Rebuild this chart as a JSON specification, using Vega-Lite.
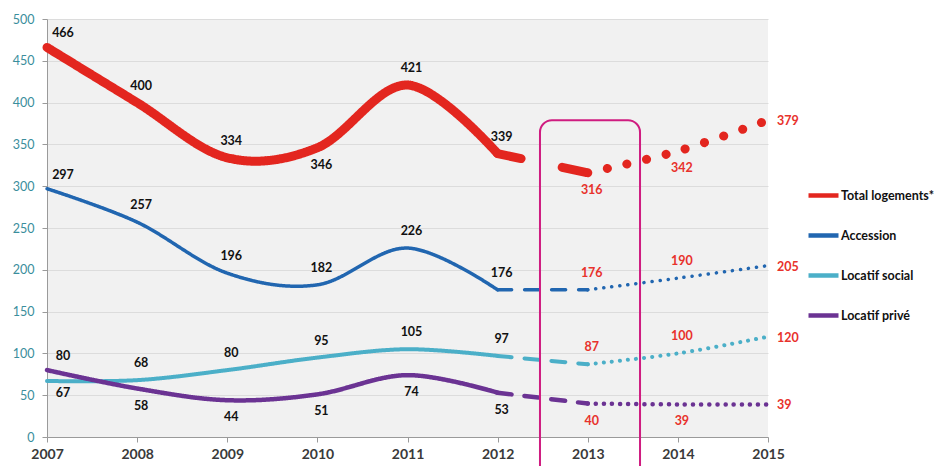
{
  "$schema": "https://vega.github.io/schema/vega-lite/v6.json",
  "width": 721,
  "height": 418,
  "autosize": {"type": "none"},
  "padding": {"left": 47, "top": 19, "right": 174, "bottom": 29},
  "background": "white",
  "config": {
    "view": {"fill": "#f1f1f1", "stroke": null},
    "font": "Lato",
    "legend": {
      "labelFont": "Lato", "labelFontSize": 12.5, "labelFontWeight": "bold", "labelColor": "#111",
      "symbolType": "stroke", "symbolSize": 900, "symbolStrokeWidth": 4.5, "labelOffset": 0,
      "rowPadding": 13, "padding": 0, "labelLimit": 200
    }
  },
  "datasets": {
    "logements": [
      {"series": "Total logements*", "year": 2007, "value": 466, "segment": "actual"},
      {"series": "Total logements*", "year": 2008, "value": 400, "segment": "actual"},
      {"series": "Total logements*", "year": 2009, "value": 334, "segment": "actual"},
      {"series": "Total logements*", "year": 2010, "value": 346, "segment": "actual"},
      {"series": "Total logements*", "year": 2011, "value": 421, "segment": "actual"},
      {"series": "Total logements*", "year": 2012, "value": 339, "segment": "actual"},
      {"series": "Total logements*", "year": 2012, "value": 339, "segment": "transition"},
      {"series": "Total logements*", "year": 2013, "value": 316, "segment": "transition"},
      {"series": "Total logements*", "year": 2013, "value": 316, "segment": "forecast"},
      {"series": "Total logements*", "year": 2014, "value": 342, "segment": "forecast"},
      {"series": "Total logements*", "year": 2015, "value": 379, "segment": "forecast"},
      {"series": "Accession", "year": 2007, "value": 297, "segment": "actual"},
      {"series": "Accession", "year": 2008, "value": 257, "segment": "actual"},
      {"series": "Accession", "year": 2009, "value": 196, "segment": "actual"},
      {"series": "Accession", "year": 2010, "value": 182, "segment": "actual"},
      {"series": "Accession", "year": 2011, "value": 226, "segment": "actual"},
      {"series": "Accession", "year": 2012, "value": 176, "segment": "actual"},
      {"series": "Accession", "year": 2012, "value": 176, "segment": "transition"},
      {"series": "Accession", "year": 2013, "value": 176, "segment": "transition"},
      {"series": "Accession", "year": 2013, "value": 176, "segment": "forecast"},
      {"series": "Accession", "year": 2014, "value": 190, "segment": "forecast"},
      {"series": "Accession", "year": 2015, "value": 205, "segment": "forecast"},
      {"series": "Locatif social", "year": 2007, "value": 67, "segment": "actual"},
      {"series": "Locatif social", "year": 2008, "value": 68, "segment": "actual"},
      {"series": "Locatif social", "year": 2009, "value": 80, "segment": "actual"},
      {"series": "Locatif social", "year": 2010, "value": 95, "segment": "actual"},
      {"series": "Locatif social", "year": 2011, "value": 105, "segment": "actual"},
      {"series": "Locatif social", "year": 2012, "value": 97, "segment": "actual"},
      {"series": "Locatif social", "year": 2012, "value": 97, "segment": "transition"},
      {"series": "Locatif social", "year": 2013, "value": 87, "segment": "transition"},
      {"series": "Locatif social", "year": 2013, "value": 87, "segment": "forecast"},
      {"series": "Locatif social", "year": 2014, "value": 100, "segment": "forecast"},
      {"series": "Locatif social", "year": 2015, "value": 120, "segment": "forecast"},
      {"series": "Locatif privé", "year": 2007, "value": 80, "segment": "actual"},
      {"series": "Locatif privé", "year": 2008, "value": 58, "segment": "actual"},
      {"series": "Locatif privé", "year": 2009, "value": 44, "segment": "actual"},
      {"series": "Locatif privé", "year": 2010, "value": 51, "segment": "actual"},
      {"series": "Locatif privé", "year": 2011, "value": 74, "segment": "actual"},
      {"series": "Locatif privé", "year": 2012, "value": 53, "segment": "actual"},
      {"series": "Locatif privé", "year": 2012, "value": 53, "segment": "transition"},
      {"series": "Locatif privé", "year": 2013, "value": 40, "segment": "transition"},
      {"series": "Locatif privé", "year": 2013, "value": 40, "segment": "forecast"},
      {"series": "Locatif privé", "year": 2014, "value": 39, "segment": "forecast"},
      {"series": "Locatif privé", "year": 2015, "value": 39, "segment": "forecast"}
    ],
    "box": [{"from": 2012.47, "to": 2013.58, "top": 379, "bottom": -50}]
  },
  "data": {"name": "logements"},
  "encoding": {
    "x": {
      "field": "year", "type": "quantitative",
      "scale": {"domain": [2007, 2015], "nice": false, "zero": false},
      "axis": {
        "title": null, "values": [2007, 2008, 2009, 2010, 2011, 2012, 2013, 2014, 2015], "format": "d",
        "grid": false, "labelFlush": false, "labelOverlap": false,
        "labelFont": "Lato", "labelFontSize": 14, "labelFontWeight": "bold", "labelColor": "#3a3a3a",
        "labelPadding": 5, "tickSize": 5, "tickColor": "#9a9a9a", "domainColor": "#9a9a9a"
      }
    },
    "y": {
      "field": "value", "type": "quantitative",
      "scale": {"domain": [0, 500], "nice": false},
      "axis": {
        "title": null, "values": [0, 50, 100, 150, 200, 250, 300, 350, 400, 450, 500],
        "labelFont": "Lato", "labelFontSize": 12.5, "labelColor": "#3a8e9c", "labelPadding": 8,
        "tickSize": 5, "tickColor": "#9a9a9a", "domainColor": "#9a9a9a",
        "grid": true, "gridColor": "#dcdcdc", "gridWidth": 1
      }
    }
  },
  "layer": [
    {
      "transform": [{"filter": "datum.series == 'Total logements*'"}],
      "mark": {"type": "line", "interpolate": "cardinal", "strokeCap": "round", "strokeWidth": 9},
      "encoding": {
        "color": {
          "field": "series", "type": "nominal",
          "scale": {
            "domain": ["Total logements*", "Accession", "Locatif social", "Locatif privé"],
            "range": ["#e3261f", "#2166b0", "#4bafc8", "#6b3393"]
          },
          "legend": {"title": null, "orient": "none", "legendX": 759, "legendY": 159}
        },
        "detail": {"field": "segment"},
        "strokeDash": {
          "field": "segment", "type": "nominal",
          "scale": {"domain": ["actual", "transition", "forecast"], "range": [[1, 0], [24, 42], [0.1, 20]]},
          "legend": null
        }
      }
    },
    {
      "transform": [{"filter": "datum.series != 'Total logements*'"}],
      "mark": {"type": "line", "interpolate": "cardinal", "strokeCap": "round"},
      "encoding": {
        "color": {"field": "series", "type": "nominal"},
        "detail": {"field": "segment"},
        "strokeWidth": {
          "field": "series", "type": "nominal",
          "scale": {"domain": ["Accession", "Locatif social", "Locatif privé"], "range": [3.5, 4.5, 3.5]},
          "legend": null
        },
        "strokeDash": {
          "field": "segment", "type": "nominal",
          "scale": {"domain": ["actual", "transition", "forecast"], "range": [[1, 0], [14, 13], [0.1, 8]]},
          "legend": null
        }
      }
    },
    {
      "transform": [{"filter": "datum.segment != 'transition' && datum.year > 2007 && datum.year < 2015 && !((datum.series == 'Total logements*' && (datum.year == 2010 || datum.year == 2013 || datum.year == 2014)) || (datum.series == 'Locatif privé') || (datum.series == 'Locatif social' && datum.year == 2007))"}],
      "mark": {"type": "text", "font": "Lato", "fontSize": 12.5, "fontWeight": "bold", "dy": -17, "dx": 4},
      "encoding": {
        "text": {"field": "value", "type": "quantitative"},
        "color": {"condition": {"test": "datum.year > 2012", "value": "#e8322c"}, "value": "#111111"}
      }
    },
    {
      "transform": [{"filter": "datum.segment != 'transition' && datum.year > 2007 && datum.year < 2015 && ((datum.series == 'Total logements*' && (datum.year == 2010 || datum.year == 2013 || datum.year == 2014)) || (datum.series == 'Locatif privé'))"}],
      "mark": {"type": "text", "font": "Lato", "fontSize": 12.5, "fontWeight": "bold", "dy": 17, "dx": 4},
      "encoding": {
        "text": {"field": "value", "type": "quantitative"},
        "color": {"condition": {"test": "datum.year > 2012", "value": "#e8322c"}, "value": "#111111"}
      }
    },
    {
      "transform": [{"filter": "datum.year == 2007 && datum.series != 'Locatif social'"}],
      "mark": {"type": "text", "font": "Lato", "fontSize": 12.5, "fontWeight": "bold", "dy": -14, "dx": 16},
      "encoding": {
        "text": {"field": "value", "type": "quantitative"},
        "color": {"value": "#111111"}
      }
    },
    {
      "transform": [{"filter": "datum.year == 2007 && datum.series == 'Locatif social'"}],
      "mark": {"type": "text", "font": "Lato", "fontSize": 12.5, "fontWeight": "bold", "dy": 12, "dx": 16},
      "encoding": {
        "text": {"field": "value", "type": "quantitative"},
        "color": {"value": "#111111"}
      }
    },
    {
      "transform": [{"filter": "datum.year == 2015"}],
      "mark": {"type": "text", "font": "Lato", "fontSize": 12.5, "fontWeight": "bold", "align": "left", "dx": 9, "dy": 1},
      "encoding": {
        "text": {"field": "value", "type": "quantitative"},
        "color": {"value": "#e8322c"}
      }
    },
    {
      "data": {"name": "box"},
      "mark": {"type": "rect", "fill": null, "fillOpacity": 0, "stroke": "#cf1c80", "strokeWidth": 2, "cornerRadius": 12, "clip": false},
      "encoding": {
        "x": {"field": "from", "type": "quantitative"},
        "x2": {"field": "to"},
        "y": {"field": "top", "type": "quantitative"},
        "y2": {"field": "bottom"}
      }
    }
  ],
  "resolve": {"scale": {"strokeDash": "independent", "strokeWidth": "independent"}}
}
